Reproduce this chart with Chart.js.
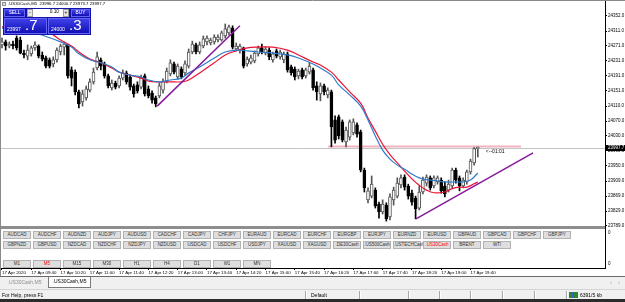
<!DOCTYPE html>
<html>
<head>
<meta charset="utf-8">
<title>.US30Cash,M5</title>
<script src="https://cdn.jsdelivr.net/npm/chart.js@4.4.1/dist/chart.umd.min.js"></script>
<style>
  html, body { margin: 0; padding: 0; }
  body { width: 625px; height: 302px; position: relative; overflow: hidden; background: #f0f0f0;
         font-family: "Liberation Sans", Arial, sans-serif; }
  #chartBox { position: absolute; left: 0; top: 0; width: 625px; height: 276px; background: #fff; }
  #chartBox canvas { position: absolute; left: 0; top: 0; }
  #title { position: absolute; left: 2px; top: 1px; font-size: 4.3px; line-height: 6px; white-space: nowrap; color: #000; }
  #title i { display: inline-block; width: 4px; height: 4px; background: #e0e0e0; border: 1px solid #909090;
             box-sizing: border-box; margin-right: 2px; vertical-align: -1px; }
  #otp { position: absolute; left: 3px; top: 8px; width: 88px; height: 27px; background: #1313a6; }
  #otp div { position: absolute; box-sizing: border-box; text-align: center; white-space: nowrap; }
  .blue { background: linear-gradient(#4040ea, #1010b4); border: 1px solid #6464f8; color: #fff; }
  .grey { background: #e6e6e6; border: 1px solid #9c9c9c; color: #000; }
  .small { font-size: 4.8px; line-height: 6px; }
  .big .s { position: absolute; left: 2px; top: 7px; font-size: 5px; }
  .big .L { position: absolute; left: 20px; top: -2px; font-size: 15px; line-height: 16px; }
  #panel { position: absolute; left: 1px; top: 229px; width: 603px; height: 38px; background: #fff; }
  #panel div { position: absolute; width: 28px; height: 8px; box-sizing: border-box; background: #dedede;
               border: 1px solid #b2b2b2; font-size: 4.5px; line-height: 6px; text-align: center; color: #333; white-space: nowrap; }
  #panel div.red { color: #f00; }
  #tabs { position: absolute; left: 0; top: 276px; width: 625px; height: 13px; background: #f0f0f0; border-top: 1px solid #6a6a6a; box-sizing: border-box; }
  #tabs div { position: absolute; box-sizing: border-box; font-size: 5px; line-height: 9px; text-align: center; white-space: nowrap; }
  #status { position: absolute; left: 0; top: 289px; width: 625px; height: 10px; background: #f0f0f0; border-top: 1px solid #d4d4d4; box-sizing: border-box; }
  #status span { position: absolute; top: 1px; font-size: 5px; line-height: 8px; white-space: nowrap; color: #000; }
  #status b { position: absolute; top: 1px; width: 1px; height: 8px; background: #a8a8a8; border-right: 1px solid #fff; }
  #bottomEdge { position: absolute; left: 0; top: 299px; width: 625px; height: 3px; background: #2b2b2b; }
</style>
</head>
<body>
<div id="chartBox">
  <canvas id="chart" width="625" height="276"></canvas>
</div>
<div id="title"><i></i>.US30Cash,M5&nbsp; 23996.7 24000.7 23973.7 23997.7</div>
<div id="otp">
  <div class="blue small" style="left:1px;top:1px;width:21px;height:8px;">SELL</div>
  <div class="grey small" style="left:24px;top:1px;width:6px;height:8px;">-</div>
  <div class="small" style="left:30px;top:1px;width:30px;height:8px;background:#fff;text-align:right;padding-right:4px;">0.10</div>
  <div class="grey small" style="left:60px;top:1px;width:6px;height:8px;">+</div>
  <div class="blue small" style="left:68px;top:1px;width:19px;height:8px;">BUY</div>
  <div class="blue big" style="left:1px;top:10px;width:43px;height:16px;"><span class="s">23997</span><span class="L">.7</span></div>
  <div class="blue big" style="left:45px;top:10px;width:42px;height:16px;"><span class="s">24000</span><span class="L">.3</span></div>
</div>
<div id="panel"></div>
<div id="tabs">
  <div style="left:2px;top:1px;width:45px;height:10px;color:#8c8c8c;">.US30Cash,M5</div>
  <div style="left:48px;top:0;width:43px;height:11px;background:#fff;border:1px solid #7a7a7a;border-top:none;">.US30Cash,M5</div>
  <div style="left:608px;top:1px;width:6px;height:10px;color:#999;">&#8249;</div>
  <div style="left:616px;top:1px;width:6px;height:10px;color:#999;">&#8250;</div>
</div>
<div id="status">
  <span style="left:2px;">For Help, press F1</span>
  <b style="left:305px;"></b><span style="left:311px;">Default</span>
  <b style="left:359px;"></b><b style="left:408px;"></b><b style="left:439px;"></b><b style="left:470px;"></b>
  <b style="left:502px;"></b><b style="left:534px;"></b><b style="left:566px;"></b>
  <span style="left:569px;top:2px;width:9px;height:6px;background:linear-gradient(90deg,#2a8a2a 0 30%,#3a5fd0 30% 60%,#2a8a2a 60%);"></span>
  <span style="left:580px;">6391/5 kb</span>
</div>
<div id="bottomEdge"></div>

<script>
// M5 bars, 17 Apr 2020 09:00 .. 19:50
const opens = [24274,24282,24271,24276,24292,24287,24252,24244,24250,24266,
  24271,24247,24239,24234,24223,24234,24255,24268,24274,24207,
  24201,24148,24121,24132,24153,24175,24212,24234,24223,24191,
  24159,24172,24164,24185,24199,24188,24164,24167,24161,24191,
  24156,24145,24132,24137,24153,24177,24196,24223,24188,24209,
  24199,24217,24255,24274,24255,24271,24282,24279,24282,24287,
  24287,24298,24306,24319,24263,24260,24266,24223,24228,24231,
  24250,24266,24252,24260,24234,24258,24242,24234,24250,24215,
  24209,24191,24207,24191,24201,24207,24164,24143,24164,24140,
  24148,24073,24081,24068,24014,24027,24038,24060,24041,23939,
  23859,23869,23885,23848,23827,23845,23813,23859,23869,23899,
  23920,23896,23877,23864,23837,23880,23904,23918,23896,23907,
  23912,23896,23885,23896,23939,23918,23896,23907,23934,23958,
  23996.7];
const highs = [24292,24287,24282,24284,24298,24295,24260,24274,24271,24282,
  24274,24255,24244,24239,24242,24266,24276,24282,24276,24215,
  24207,24153,24153,24164,24183,24212,24255,24239,24228,24196,
  24180,24177,24191,24207,24204,24193,24169,24175,24193,24196,
  24164,24151,24137,24172,24183,24212,24234,24228,24223,24215,
  24231,24263,24284,24279,24282,24298,24298,24292,24301,24301,
  24311,24330,24327,24325,24279,24276,24268,24242,24247,24258,
  24271,24276,24268,24266,24255,24263,24260,24255,24255,24220,
  24215,24209,24212,24212,24226,24212,24175,24172,24169,24159,
  24153,24084,24086,24073,24054,24073,24076,24065,24046,23944,
  23891,23923,23891,23853,23859,23851,23875,23893,23918,23926,
  23926,23901,23885,23869,23896,23920,23926,23923,23923,23923,
  23918,23907,23912,23944,23944,23923,23918,23939,23968,23999,
  24000.7];
const lows = [24266,24260,24266,24263,24260,24250,24239,24234,24244,24260,
  24239,24231,24212,24212,24215,24228,24247,24247,24185,24164,
  24140,24105,24110,24126,24148,24169,24207,24207,24185,24159,
  24153,24156,24159,24180,24169,24153,24134,24145,24156,24137,
  24132,24118,24108,24132,24145,24172,24191,24196,24183,24183,
  24193,24212,24250,24250,24250,24266,24274,24274,24276,24282,
  24284,24292,24301,24263,24258,24252,24212,24217,24223,24226,
  24244,24250,24247,24234,24228,24239,24236,24226,24201,24193,
  24180,24183,24183,24185,24196,24153,24126,24124,24140,24132,
  24001,24011,24022,24014,24001,24019,24033,24027,23934,23880,
  23851,23864,23837,23810,23821,23802,23805,23845,23864,23891,
  23885,23861,23845,23808,23832,23875,23896,23885,23891,23901,
  23877,23867,23880,23891,23904,23883,23891,23901,23928,23952,
  23973.7];
const closes = [24282,24271,24276,24271,24266,24252,24247,24260,24266,24274,
  24244,24236,24217,24217,24234,24260,24271,24276,24191,24185,
  24148,24116,24143,24156,24175,24201,24242,24217,24191,24164,
  24172,24161,24185,24199,24175,24161,24143,24151,24185,24143,
  24137,24126,24116,24164,24177,24204,24226,24201,24217,24188,
  24223,24255,24276,24255,24274,24290,24292,24287,24295,24295,
  24306,24317,24322,24268,24271,24271,24217,24236,24239,24252,
  24266,24255,24263,24242,24250,24244,24255,24250,24207,24199,
  24188,24204,24188,24207,24217,24159,24148,24164,24148,24153,
  24054,24019,24030,24019,24046,24068,24068,24035,23939,23891,
  23883,23901,23843,23827,23848,23808,23867,23885,23904,23918,
  23893,23869,23853,23835,23880,23912,23920,23891,23918,23918,
  23883,23875,23901,23939,23912,23896,23912,23934,23963,23996,
  23997.7];

// moving averages (bar index, price)
const blueIdx = [0,5,10,16,19,21,24,27,30,32,35,38,40,43,46,49,51,54,58,61,64,67,70,74,78,81,85,87,90,92,95,98,
  100,102,104,106,108,110,112,114,116,118,121,124,126,128,130];
const blueVals = [24319,24314,24303,24282,24268,24250,24234,24226,24215,24201,24193,24188,24180,24175,24180,24185,
  24199,24215,24239,24255,24260,24258,24255,24252,24247,24239,24223,24212,24193,24167,24140,24110,
  24073,24030,23992,23968,23952,23941,23928,23918,23913,23911,23907,23907,23907,23912,23931];
const redIdx = [0,6,10,13,16,19,21,24,27,30,32,35,38,40,43,46,49,51,54,58,61,64,67,70,74,78,81,85,87,90,92,95,98,
  100,102,104,106,108,110,112,114,116,118,121,123,125,127,129,130];
const redVals = [24322,24317,24311,24306,24287,24271,24255,24236,24226,24212,24201,24193,24185,24177,24175,24175,
  24175,24180,24199,24226,24247,24258,24266,24268,24268,24260,24247,24228,24220,24201,24180,24148,24118,
  24078,24043,24008,23980,23958,23936,23915,23898,23885,23878,23880,23889,23893,23893,23902,23907];

// trend lines and level (bar index, price)
const trend1Idx = [42.4, 65.0];
const trend1Vals = [24110, 24325];
const trend2Idx = [113.1, 145.1];
const trend2Vals = [23808, 23985];
const levelPrice = 24002;
const levelIdx = [89.1, 141.8];
const lastPrice = 23997.7;
const timerIdx = 132.2;

const timeIdx = [0,8,16,24,32,40,48,56,64,72,80,88,96,104,112,120,128];
const timeLabels = ['17 Apr 2020','17 Apr 09:40','17 Apr 10:20','17 Apr 11:00','17 Apr 11:40','17 Apr 12:20',
  '17 Apr 13:00','17 Apr 13:40','17 Apr 14:20','17 Apr 15:00','17 Apr 15:40','17 Apr 16:20','17 Apr 17:00',
  '17 Apr 17:40','17 Apr 18:20','17 Apr 19:00','17 Apr 19:40'];
const priceTicks = [23789,23829,23869,23909,23950,23990,24030,24070,24110,24151,24191,24231,24271,24311,24352];

// quick-symbol buttons under the chart
const row1 = ['AUDCAD','AUDCHF','AUDNZD','AUDJPY','AUDUSD','CADCHF','CADJPY','CHFJPY','EURAUD','EURCAD',
  'EURCHF','EURGBP','EURJPY','EURNZD','EURUSD','GBPAUD','GBPCAD','GBPCHF','GBPJPY'];
const row2 = ['GBPNZD','GBPUSD','NZDCAD','NZDCHF','NZDJPY','NZDUSD','USDCAD','USDCHF','USDJPY','XAUUSD',
  'XAGUSD','.DE30Cash','.US500Cash','.USTECHCash','.US30Cash','BRENT','WTI'];
const row3 = ['M1','M5','M15','M30','H1','H4','D1','W1','MN'];

const panel = document.getElementById('panel');
[[row1, 2, '.US30Cash'], [row2, 11.5, '.US30Cash'], [row3, 31, 'M5']].forEach(([names, top, active]) => {
  names.forEach((n, k) => {
    const d = document.createElement('div');
    d.textContent = n;
    d.style.left = (2 + k * 30) + 'px';
    d.style.top = top + 'px';
    if (n === active && (names === row2 || names === row3)) d.className = 'red';
    panel.appendChild(d);
  });
});

const pts = (xs, ys) => xs.map((x, i) => ({x: x, y: ys[i]}));
const bull = opens.map((o, i) => closes[i] >= o);
const bullEdge = '#555555';

const overlay = {
  id: 'mtOverlay',
  beforeDatasetsDraw(chart) {
    const {ctx, chartArea: a, scales: {x, y}} = chart;
    ctx.save();
    const py = Math.round(y.getPixelForValue(lastPrice)) + 0.5;
    ctx.strokeStyle = '#c4c4c4';
    ctx.lineWidth = 1;
    ctx.beginPath(); ctx.moveTo(a.left, py); ctx.lineTo(a.right, py); ctx.stroke();
    const ly = y.getPixelForValue(levelPrice);
    ctx.strokeStyle = '#f2b3c0';
    ctx.lineWidth = 2;
    ctx.beginPath(); ctx.moveTo(x.getPixelForValue(levelIdx[0]), ly); ctx.lineTo(x.getPixelForValue(levelIdx[1]), ly); ctx.stroke();
    ctx.restore();
  },
  afterDraw(chart) {
    const {ctx, chartArea: a, scales: {x, y}} = chart;
    ctx.save();
    // window separator
    ctx.fillStyle = '#8e8e8e';
    ctx.fillRect(a.left, 226, a.right - a.left, 3);
    // bar timer
    ctx.fillStyle = '#000';
    ctx.font = '5px "Liberation Sans", Arial, sans-serif';
    ctx.textBaseline = 'middle';
    ctx.textAlign = 'left';
    ctx.fillText('<--01:01', x.getPixelForValue(timerIdx), y.getPixelForValue(lastPrice) + 4);
    // last price box
    const py = Math.round(y.getPixelForValue(lastPrice));
    ctx.fillStyle = '#000';
    ctx.fillRect(a.right + 1, py - 3, 19, 6);
    ctx.fillStyle = '#fff';
    ctx.font = '4.5px "Liberation Sans", Arial, sans-serif';
    ctx.fillText(lastPrice.toFixed(1), a.right + 3, py + 0.2);
    // sub-window scale
    ctx.fillStyle = '#000';
    ctx.fillText('0', a.right + 3, 233);
    ctx.fillText('0', a.right + 3, 264);
    // frame
    ctx.strokeStyle = '#8a8a8a';
    ctx.lineWidth = 1;
    ctx.beginPath(); ctx.moveTo(0.5, 0); ctx.lineTo(0.5, 276); ctx.moveTo(0, 0.5); ctx.lineTo(625, 0.5); ctx.stroke();
    ctx.restore();
  }
};

Chart.defaults.font.family = '"Liberation Sans", Arial, sans-serif';

new Chart(document.getElementById('chart').getContext('2d'), {
  type: 'bar',
  data: {
    datasets: [
      {type: 'line', data: pts(trend1Idx, trend1Vals), borderColor: '#86199a', borderWidth: 1.5, pointRadius: 0, order: 0},
      {type: 'line', data: pts(trend2Idx, trend2Vals), borderColor: '#86199a', borderWidth: 1.5, pointRadius: 0, order: 0},
      {type: 'line', data: pts(blueIdx, blueVals), borderColor: '#2f7cc8', borderWidth: 1.2, pointRadius: 0, tension: 0.4, order: 1},
      {type: 'line', data: pts(redIdx, redVals), borderColor: '#ec1234', borderWidth: 1.2, pointRadius: 0, tension: 0.4, order: 1},
      {
        type: 'bar',
        data: opens.map((o, i) => ({x: i, y: [o, closes[i]]})),
        backgroundColor: bull.map(b => b ? '#fff' : '#000'),
        borderColor: bull.map(b => b ? bullEdge : '#000'),
        borderWidth: 1,
        borderSkipped: false,
        barThickness: 3,
        minBarLength: 1,
        grouped: false,
        order: 2
      },
      {
        type: 'bar',
        data: lows.map((l, i) => ({x: i, y: [l, highs[i]]})),
        backgroundColor: bull.map(b => b ? bullEdge : '#000'),
        borderWidth: 0,
        barThickness: 1,
        grouped: false,
        order: 3
      }
    ]
  },
  options: {
    responsive: false,
    animation: false,
    events: [],
    layout: {padding: {top: 1, left: 0, right: 0, bottom: 0}},
    plugins: {legend: {display: false}, tooltip: {enabled: false}},
    scales: {
      x: {
        type: 'linear',
        bounds: 'data',
        offset: false,
        min: -0.546,
        max: 164.75,
        afterBuildTicks: s => { s.ticks = timeIdx.map(v => ({value: v})); },
        afterFit: s => { s.height = 8; s.paddingLeft = 0; s.paddingRight = 0; },
        grid: {offset: false, drawOnChartArea: false, tickLength: 2, color: '#000'},
        border: {color: '#000'},
        ticks: {
          align: 'start', padding: 0, maxRotation: 0, autoSkip: false, color: '#000',
          font: {size: 4.4},
          callback: (v, i) => timeLabels[i]
        }
      },
      y: {
        type: 'linear',
        position: 'right',
        bounds: 'data',
        min: 23676.5,
        max: 24391.5,
        afterBuildTicks: s => { s.ticks = priceTicks.map(v => ({value: v})); },
        afterFit: s => { s.width = 20; s.paddingTop = 0; s.paddingBottom = 0; },
        grid: {drawOnChartArea: false, tickLength: 2, color: '#000'},
        border: {color: '#000'},
        ticks: {padding: 1, color: '#000', font: {size: 4.5}, callback: v => v.toFixed(1)}
      }
    }
  },
  plugins: [overlay]
});
</script>
</body>
</html>
